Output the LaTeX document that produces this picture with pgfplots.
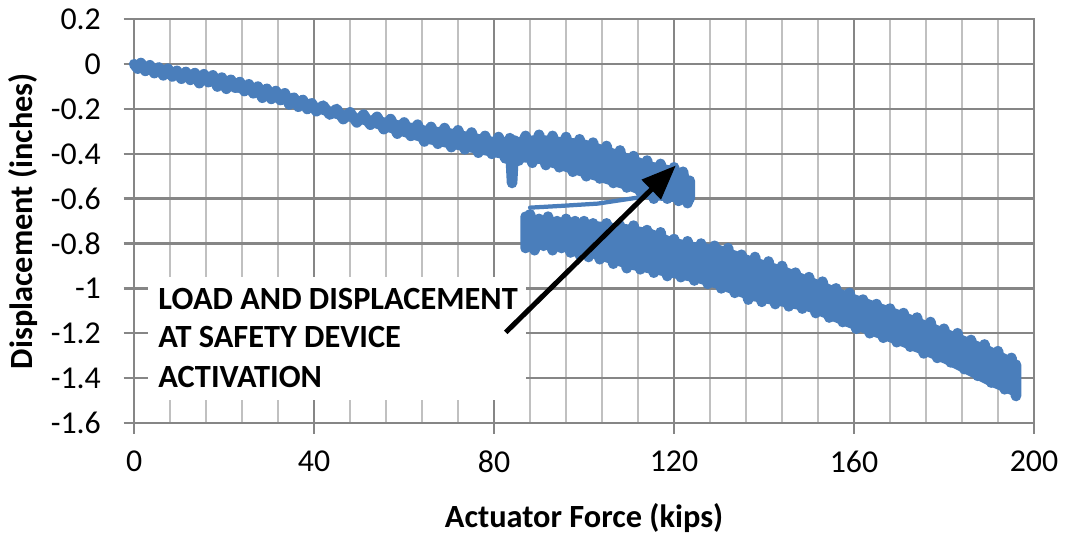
\documentclass[border=0pt]{standalone}
\usepackage{pgfplots}
\pgfplotsset{compat=1.18}
\usepackage{fontspec}
\setmainfont{Carlito}
\usetikzlibrary{arrows.meta}

\definecolor{series}{RGB}{74,126,187}
\definecolor{majgrid}{RGB}{134,134,134}
\definecolor{mingrid}{RGB}{192,192,192}

% force (kips) vs displacement (in), before safety device activation
\pgfplotstableread{
x y
0 0.0
0.8 -0.02
1.5 0.005
2.5 -0.03
3.5 -0.005
4.5 -0.04
5.5 -0.015
6.5 -0.05
7.5 -0.02
8.5 -0.055
9.5 -0.03
10.5 -0.065
11.5 -0.035
12.5 -0.07
13.5 -0.04
14.5 -0.085
15.5 -0.045
16.5 -0.08
17.5 -0.05
18.5 -0.10
19.5 -0.06
20.5 -0.11
21.5 -0.07
22.5 -0.105
23.5 -0.08
24.5 -0.12
25.5 -0.09
26.5 -0.13
27.5 -0.10
28.5 -0.15
29.5 -0.11
30.5 -0.155
31.5 -0.12
32.5 -0.16
33.5 -0.13
34.5 -0.18
35.5 -0.15
36.5 -0.19
37.5 -0.16
38.5 -0.20
39.5 -0.175
40.5 -0.21
42 -0.185
43.5 -0.225
45 -0.20
46.5 -0.245
48 -0.215
49.5 -0.26
51 -0.225
52.5 -0.27
54 -0.235
55.5 -0.29
57 -0.245
58.5 -0.31
60 -0.26
61.5 -0.32
63 -0.27
64.5 -0.345
66 -0.28
67.5 -0.355
69 -0.285
70.5 -0.37
72 -0.295
73.5 -0.38
75 -0.305
76.5 -0.395
78 -0.32
79.5 -0.40
81 -0.325
82.5 -0.42
83.5 -0.33
84 -0.53
84.5 -0.34
85.5 -0.43
87 -0.32
88.5 -0.44
90 -0.315
91.5 -0.45
93 -0.32
94.5 -0.46
96 -0.325
97.5 -0.48
99 -0.335
100.5 -0.50
102 -0.35
103.5 -0.51
105 -0.365
106.5 -0.53
108 -0.385
109.5 -0.55
111 -0.41
112.5 -0.57
114 -0.43
115.5 -0.60
117 -0.445
118.5 -0.60
120 -0.46
121 -0.61
122 -0.48
123 -0.62
123.5 -0.52
123.5 -0.60
}\before

% body of the band before activation (upper edge, then lower edge back)
\pgfplotstableread{
x y
0 0.005
5 -0.015
10 -0.025
15 -0.045
20 -0.055
25 -0.085
30 -0.105
35 -0.135
40 -0.175
45 -0.195
50 -0.225
55 -0.235
60 -0.255
65 -0.275
70 -0.285
75 -0.305
80 -0.325
85 -0.325
90 -0.315
95 -0.325
100 -0.335
105 -0.365
110 -0.40
115 -0.435
120 -0.455
123.5 -0.50
123.5 -0.62
120 -0.615
115 -0.605
110 -0.565
105 -0.535
100 -0.505
95 -0.475
90 -0.445
85 -0.435
80 -0.415
75 -0.395
70 -0.375
65 -0.355
60 -0.325
55 -0.295
50 -0.265
45 -0.245
40 -0.215
35 -0.185
30 -0.165
25 -0.135
20 -0.115
15 -0.085
10 -0.065
5 -0.045
0 -0.025
}\beforebody

% jump at activation
\pgfplotstableread{
x y
121 -0.58
112 -0.595
103 -0.622
95 -0.632
88 -0.64
}\jump

% after activation
\pgfplotstableread{
x y
87 -0.68
87 -0.82
88 -0.67
89 -0.83
90 -0.69
91 -0.81
92 -0.68
93 -0.83
94 -0.70
95 -0.82
96 -0.69
97 -0.84
98 -0.70
99 -0.85
100 -0.70
101 -0.86
102 -0.71
103.5 -0.87
105 -0.71
106.5 -0.89
108 -0.72
109.5 -0.91
111 -0.72
112.5 -0.915
114 -0.74
115.5 -0.93
117 -0.75
118.5 -0.945
120 -0.78
121.5 -0.95
123 -0.79
124.5 -0.965
126 -0.80
127.5 -0.98
129 -0.81
130.5 -1.00
132 -0.82
133.5 -1.02
135 -0.85
136.5 -1.05
138 -0.86
139.5 -1.06
141 -0.88
142.5 -1.07
144 -0.90
145.5 -1.08
147 -0.93
148.5 -1.09
150 -0.95
151.5 -1.11
153 -0.97
154.5 -1.13
156 -1.00
157.5 -1.15
159 -1.02
160.5 -1.18
162 -1.05
163.5 -1.20
165 -1.07
166.5 -1.22
168 -1.09
169.5 -1.24
171 -1.11
172.5 -1.26
174 -1.13
175.5 -1.29
177 -1.15
178.5 -1.31
180 -1.18
181.5 -1.33
183 -1.20
184.5 -1.36
186 -1.23
187.5 -1.39
189 -1.25
190.5 -1.42
192 -1.28
193.5 -1.45
195 -1.31
196 -1.48
196 -1.34
}\after

% body of the band after activation (upper edge, then lower edge back)
\pgfplotstableread{
x y
87 -0.675
90 -0.685
95 -0.685
100 -0.695
105 -0.705
110 -0.715
115 -0.735
120 -0.775
125 -0.795
130 -0.805
137 -0.855
145 -0.905
150 -0.945
160 -1.025
170 -1.095
180 -1.175
190 -1.255
196 -1.315
196 -1.485
190 -1.435
180 -1.335
170 -1.255
160 -1.185
150 -1.105
145 -1.085
137 -1.055
130 -1.005
125 -0.975
120 -0.955
115 -0.935
110 -0.915
105 -0.885
100 -0.855
95 -0.835
90 -0.825
87 -0.825
}\afterbody

\begin{document}
\begin{tikzpicture}
\begin{axis}[
  scale only axis,
  width=339.3pt, height=152.2pt,
  xmin=0, xmax=200, ymin=-1.6, ymax=0.2,
  xtick={0,40,...,200},
  minor xtick={8,16,24,32,48,56,64,72,88,96,104,112,128,136,144,152,168,176,184,192},
  ytick={-1.6,-1.4,-1.2,-1,-0.8,-0.6,-0.4,-0.2,0,0.2},
  grid=both,
  major grid style={majgrid, line width=0.9pt},
  minor grid style={mingrid, line width=0.9pt},
  axis line style={majgrid, line width=0.9pt},
  tick style={majgrid, line width=0.9pt},
  tick align=outside,
  major tick length=4pt,
  minor tick length=0pt,
  xtick pos=bottom, ytick pos=left,
  /pgf/number format/assume math mode=true,
  tick label style={font=\fontsize{12}{14}\selectfont},
  xticklabel style={yshift=-3pt},
  yticklabel style={xshift=-5pt},
  xlabel={\textbf{Actuator Force (kips)}},
  ylabel={\textbf{Displacement (inches)}},
  label style={font=\fontsize{12.2}{14}\selectfont},
  xlabel style={yshift=-4.5pt},
  ylabel style={yshift=-2pt},
  clip=false,
]
\addplot[fill=series, draw=none] table[x=x,y=y] {\beforebody};
\addplot[fill=series, draw=none] table[x=x,y=y] {\afterbody};
\addplot[series, line width=4pt, line join=round, line cap=round] table[x=x,y=y] {\before};
\addplot[series, line width=1.6pt, line join=round, line cap=round] table[x=x,y=y] {\jump};
\addplot[series, line width=4pt, line join=round, line cap=round] table[x=x,y=y] {\after};
\fill[white] (axis cs:3.1,-0.948) rectangle (axis cs:87.2,-1.498);
\node[anchor=base west, inner sep=0pt, font=\fontsize{12.2}{14}\selectfont\bfseries] at (axis cs:5.3,-1.094) {LOAD AND DISPLACEMENT};
\node[anchor=base west, inner sep=0pt, font=\fontsize{12.2}{14}\selectfont\bfseries] at (axis cs:5.3,-1.263) {AT SAFETY DEVICE};
\node[anchor=base west, inner sep=0pt, font=\fontsize{12.2}{14}\selectfont\bfseries] at (axis cs:5.3,-1.44) {ACTIVATION};
\draw[black, line width=1.9pt, -{Triangle[length=13pt, width=10pt]}] (axis cs:82.6,-1.196) -- (axis cs:120.4,-0.452);
\coordinate (bbl) at (axis cs:-28.95,-2.092);
\coordinate (btr) at (axis cs:206.85,0.28);
\end{axis}
\path (bbl) rectangle (btr);
\end{tikzpicture}
\end{document}
